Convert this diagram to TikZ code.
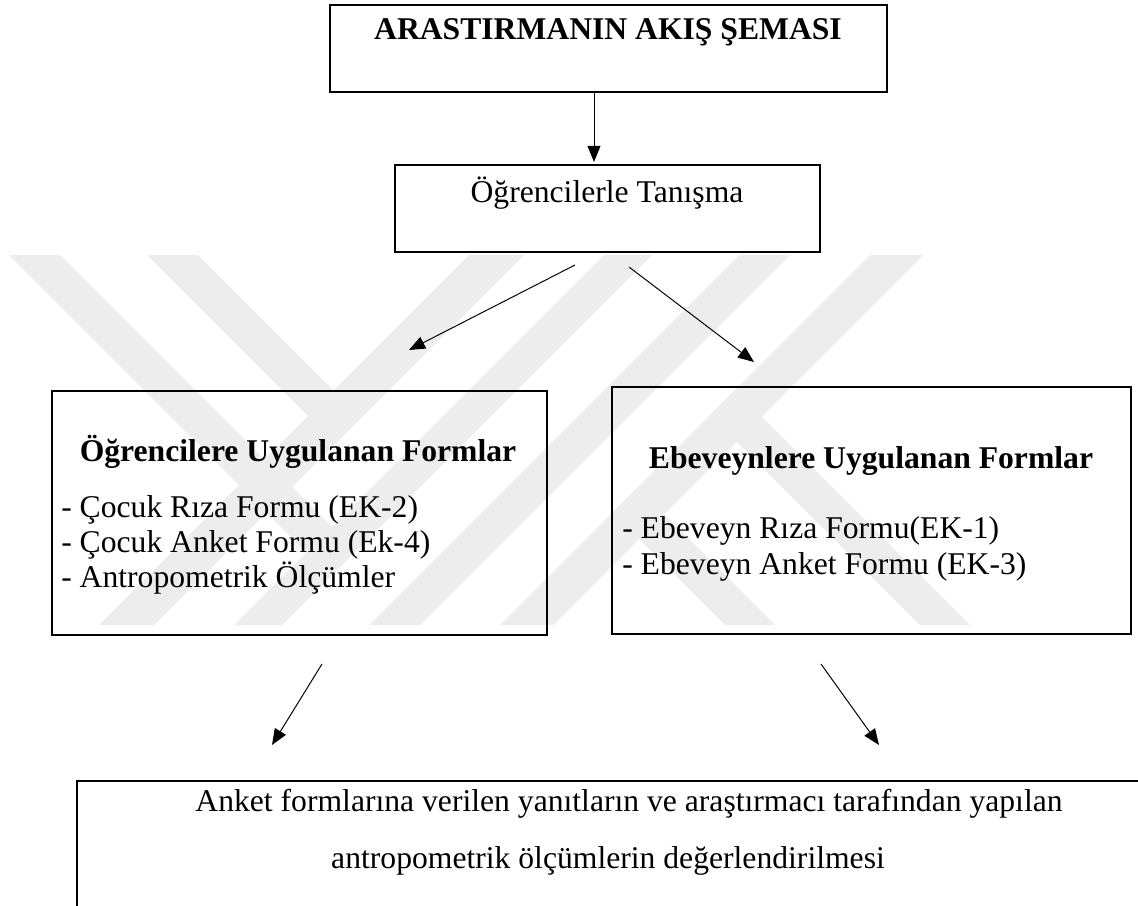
\documentclass[tikz,border=0pt]{standalone}
\usepackage{fontspec}
\setmainfont{Liberation Serif}
\usepackage{tikz}
\usetikzlibrary{arrows.meta,fit}

\tikzset{
  kutu/.style={draw, line width=1.8pt, inner sep=0pt},
  ok/.style={-{Triangle[length=0.4cm,width=0.32cm]}, line width=0.7pt},
  filigran/.style={fill=black!7},
}

\begin{document}
\begin{tikzpicture}[x=0.025cm,y=-0.025cm,inner sep=0pt,font=\fontsize{22.5}{27}\selectfont]
        \path[use as bounding box,clip] (0,0) rectangle (1138,906);
        \begin{scope}
        \clip (0,255) rectangle (1138,625);
        \fill[filigran] (469,255) -- (524,255) -- (154,625) -- (99,625) -- cycle;
        \fill[filigran] (604,255) -- (652,255) -- (282,625) -- (234,625) -- cycle;
        \fill[filigran] (739,255) -- (790,255) -- (420,625) -- (369,625) -- cycle;
        \fill[filigran] (870,255) -- (923,255) -- (553,625) -- (500,625) -- cycle;
        \fill[filigran] (147,255) -- (198,255) -- (333.5,390.5) -- (335.5,443.5) -- cycle;
        \fill[filigran] (9,255) -- (60,255) -- (332,527) -- (330.5,576.5) -- cycle;
        \fill[filigran] (612.5,512.5) -- (637.5,487.5) -- (775,625) -- (725,625) -- cycle;
        \fill[filigran] (710,415) -- (735,390) -- (970,625) -- (920,625) -- cycle;
        \end{scope}

        \node[kutu, fit={(330,5) (887,92)}] (baslik) {};
        \node[kutu, fit={(395,165) (820,252)}] (tanisma) {};
        \node[kutu, fit={(52,391) (547,635)}] (ogrenci) {};
        \node[kutu, fit={(612,387) (1131,634)}] (ebeveyn) {};
        \node[kutu, fit={(77,781) (1200,960)}] (degerlendirme) {};

        \node[anchor=base] (baslikyazi) at (608,40) {\bfseries ARASTIRMANIN AKIŞ ŞEMASI};
        \node[anchor=base] (tanismayazi) at (607,203) {Öğrencilerle Tanışma};
        \node[anchor=base] (ogrenciyazi) at (298,461) {\bfseries Öğrencilere Uygulanan Formlar};
        \node[anchor=base west] (ogr1) at (61,517) {- Çocuk Rıza Formu (EK-2)};
        \node[anchor=base west] (ogr2) at (61,552) {- Çocuk Anket Formu (Ek-4)};
        \node[anchor=base west] (ogr3) at (61,587) {- Antropometrik Ölçümler};
        \node[anchor=base] (ebeveynyazi) at (871,468) {\bfseries Ebeveynlere Uygulanan Formlar};
        \node[anchor=base west] (ebv1) at (622,538) {- Ebeveyn Rıza Formu(EK-1)};
        \node[anchor=base west] (ebv2) at (622,574) {- Ebeveyn Anket Formu (EK-3)};
        \node[anchor=base] (deg1) at (629,811) {Anket formlarına verilen yanıtların ve araştırmacı tarafından yapılan};
        \node[anchor=base] (deg2) at (608,868) {antropometrik ölçümlerin değerlendirilmesi};

        \coordinate (orta1) at (594,162);
        \coordinate (sol1) at (575,265);
        \coordinate (sol2) at (409,350);
        \coordinate (sag1) at (629,267);
        \coordinate (sag2) at (754,362);
        \coordinate (sol3) at (322,664);
        \coordinate (sol4) at (272,745);
        \coordinate (sag3) at (821,664);
        \coordinate (sag4) at (879,745);

        \draw[ok] (baslik.south -| orta1) -- (orta1);
        \draw[ok] (sol1) -- (sol2);
        \draw[ok] (sag1) -- (sag2);
        \draw[ok] (sol3) -- (sol4);
        \draw[ok] (sag3) -- (sag4);
    \end{tikzpicture}
\end{document}
